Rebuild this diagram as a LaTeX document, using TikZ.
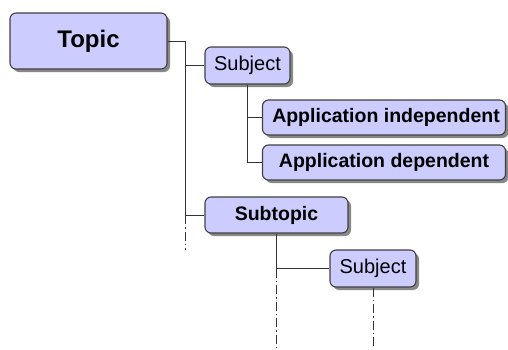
\documentclass[tikz,border=0pt]{standalone}
\usepackage{fontspec}
\setmainfont{Liberation Sans}
\usetikzlibrary{shadows}
\definecolor{boxfill}{HTML}{CCCCFF}
\definecolor{boxline}{HTML}{404040}
\definecolor{conn}{HTML}{333333}
\tikzset{
  box/.style={draw=boxline, line width=1.1pt, fill=boxfill, rounded corners=6pt,
    inner sep=0pt, align=center,
    drop shadow={shadow xshift=3pt, shadow yshift=-3pt, fill=black!55, opacity=0.85}},
  bigtext/.style={font=\fontsize{24}{26}\selectfont\bfseries},
  boldtext/.style={font=\fontsize{19.5}{22}\selectfont\bfseries},
  plaintext/.style={font=\fontsize{20}{22}\selectfont},
  conn/.style={draw=conn, line width=0.9pt},
  dd/.style={draw=conn, line width=0.9pt, dash pattern=on 9pt off 3pt on 1.5pt off 3pt}
}
\begin{document}
\begin{tikzpicture}[x=1pt,y=-1pt]
\useasboundingbox (0,0) rectangle (508,349);
\node[box,bigtext,minimum width=157pt,minimum height=56pt] (topic) at (88.5,41) {Topic};
\node[box,plaintext,minimum width=85pt,minimum height=37pt] (subj1) at (247.5,65.5) {Subject};
\node[box,boldtext,minimum width=243pt,minimum height=35pt] (appind) at (384,117.5) {\hspace*{4pt}Application independent};
\node[box,boldtext,minimum width=243pt,minimum height=35pt] (appdep) at (384,162.5) {Application dependent};
\node[box,boldtext,minimum width=143pt,minimum height=36pt] (subtopic) at (276.5,215) {Subtopic};
\node[box,plaintext,minimum width=86pt,minimum height=37pt] (subj2) at (373,268.5) {Subject};
\coordinate (ta) at (185,41);
\coordinate (tb) at (185,65.5);
\coordinate (tc) at (185,215);
\coordinate (td) at (185,250);
\coordinate (sa) at (247.5,117.5);
\coordinate (sb) at (247.5,162.5);
\coordinate (ua) at (276.5,268.5);
\coordinate (ub) at (276.5,349);
\coordinate (va) at (373,349);
\draw[conn] (topic.east) -- (ta) -- (tc) -- (subtopic.west);
\draw[conn] (tb) -- (subj1.west);
\draw[dd] (tc) -- (td);
\draw[conn] (subj1.south) -- (sb) -- (appdep.west);
\draw[conn] (sa) -- (appind.west);
\draw[conn] (subtopic.south) -- (ua) -- (subj2.west);
\draw[dd] (ua) -- (ub);
\draw[dd] (subj2.south) -- (va);
\end{tikzpicture}
\end{document}
